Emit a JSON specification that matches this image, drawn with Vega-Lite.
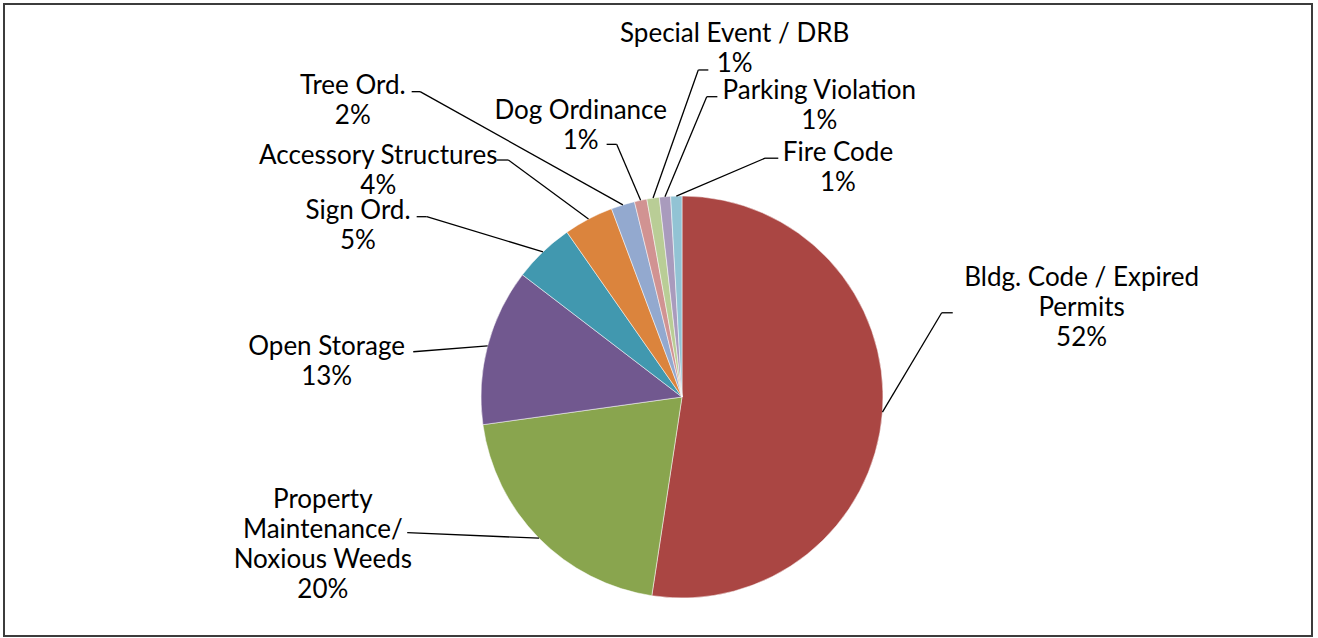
{
  "$schema": "https://vega.github.io/schema/vega-lite/v6.json",
  "width": 1318,
  "height": 638,
  "autosize": {"type": "fit", "contains": "padding"},
  "padding": {"left": 4, "top": 4, "right": 6, "bottom": 2},
  "background": "#ffffff",
  "config": {"view": {"stroke": "#3c3c3c", "strokeWidth": 2}},
  "data": {
    "values": [
      {"rank": 1, "category": "Bldg. Code / Expired Permits", "value": 52.4, "label": ["Bldg. Code / Expired", "Permits", "52%"]},
      {"rank": 2, "category": "Property Maintenance/ Noxious Weeds", "value": 20.4, "label": ["Property", "Maintenance/", "Noxious Weeds", "20%"]},
      {"rank": 3, "category": "Open Storage", "value": 12.6, "label": ["Open Storage", "13%"]},
      {"rank": 4, "category": "Sign Ord.", "value": 4.9, "label": ["Sign Ord.", "5%"]},
      {"rank": 5, "category": "Accessory Structures", "value": 4.0, "label": ["Accessory Structures", "4%"]},
      {"rank": 6, "category": "Tree Ord.", "value": 1.9, "label": ["Tree Ord.", "2%"]},
      {"rank": 7, "category": "Dog Ordinance", "value": 1.0, "label": ["Dog Ordinance", "1%"]},
      {"rank": 8, "category": "Special Event / DRB", "value": 1.0, "label": ["Special Event / DRB", "1%"]},
      {"rank": 9, "category": "Parking Violation", "value": 0.9, "label": ["Parking Violation", "1%"]},
      {"rank": 10, "category": "Fire Code", "value": 0.9, "label": ["Fire Code", "1%"]}
    ]
  },
  "transform": [
    {"window": [{"op": "sum", "field": "value", "as": "cum"}], "sort": [{"field": "rank"}]},
    {"joinaggregate": [{"op": "sum", "field": "value", "as": "total"}]},
    {"calculate": "2 * PI * (datum.cum - datum.value) / datum.total", "as": "a0"},
    {"calculate": "2 * PI * datum.cum / datum.total", "as": "a1"},
    {"calculate": "sin((datum.a0 + datum.a1) / 2)", "as": "px"},
    {"calculate": "cos((datum.a0 + datum.a1) / 2)", "as": "py"},
    {"calculate": "[1.988, -1.787, -1.768, -1.612, -1.511, -1.638, -0.504, 0.262, 0.683, 0.776][datum.rank - 1]", "as": "lx"},
    {"calculate": "[0.592, -0.512, 0.249, 0.923, 1.197, 1.545, 1.424, 1.807, 1.520, 1.213][datum.rank - 1]", "as": "ly"},
    {"calculate": "[1.292, -1.367, -1.337, -1.270, -0.864, -1.303, -0.325, 0.081, 0.123, 0.413][datum.rank - 1]", "as": "ex"},
    {"calculate": "[0.419, -0.675, 0.225, 0.897, 1.179, 1.519, 1.257, 1.627, 1.494, 1.188][datum.rank - 1]", "as": "ey"},
    {"calculate": "[1.347, -1.367, -1.337, -1.320, -0.922, -1.345, -0.375, 0.131, 0.176, 0.479][datum.rank - 1]", "as": "tx"}
  ],
  "layer": [
    {
      "mark": {"type": "arc", "outerRadius": 201, "stroke": "#ffffff", "strokeWidth": 0.5},
      "encoding": {
        "theta": {"field": "a0", "type": "quantitative", "scale": null},
        "theta2": {"field": "a1"},
        "x": {"datum": 0, "type": "quantitative", "stack": null, "scale": {"domain": [-3.3731, 3.1343], "nice": false, "zero": false}, "axis": null},
        "y": {"datum": 0, "type": "quantitative", "stack": null, "scale": {"domain": [-1.1891, 1.9552], "nice": false, "zero": false}, "axis": null},
        "color": {
          "field": "category",
          "type": "nominal",
          "legend": null,
          "scale": {
            "domain": ["Bldg. Code / Expired Permits", "Property Maintenance/ Noxious Weeds", "Open Storage", "Sign Ord.", "Accessory Structures", "Tree Ord.", "Dog Ordinance", "Special Event / DRB", "Parking Violation", "Fire Code"],
            "range": ["#AA4643", "#89A54E", "#71588F", "#4198AF", "#DB843D", "#93A9CF", "#D19392", "#B9CD96", "#A99BBD", "#92C3D4"]
          }
        }
      }
    },
    {
      "mark": {"type": "rule", "color": "#000000", "strokeWidth": 1.3},
      "encoding": {
        "x": {"field": "px", "type": "quantitative"},
        "y": {"field": "py", "type": "quantitative"},
        "x2": {"field": "ex"},
        "y2": {"field": "ey"}
      }
    },
    {
      "mark": {"type": "rule", "color": "#000000", "strokeWidth": 1.3},
      "encoding": {
        "x": {"field": "ex", "type": "quantitative"},
        "y": {"field": "ey", "type": "quantitative"},
        "x2": {"field": "tx"},
        "y2": {"field": "ey"}
      }
    },
    {
      "mark": {"type": "text", "font": "Lato", "fontSize": 26, "lineHeight": 30, "align": "center", "baseline": "middle", "color": "#000000"},
      "encoding": {
        "x": {"field": "lx", "type": "quantitative"},
        "y": {"field": "ly", "type": "quantitative"},
        "text": {"field": "label", "type": "nominal"}
      }
    }
  ]
}
